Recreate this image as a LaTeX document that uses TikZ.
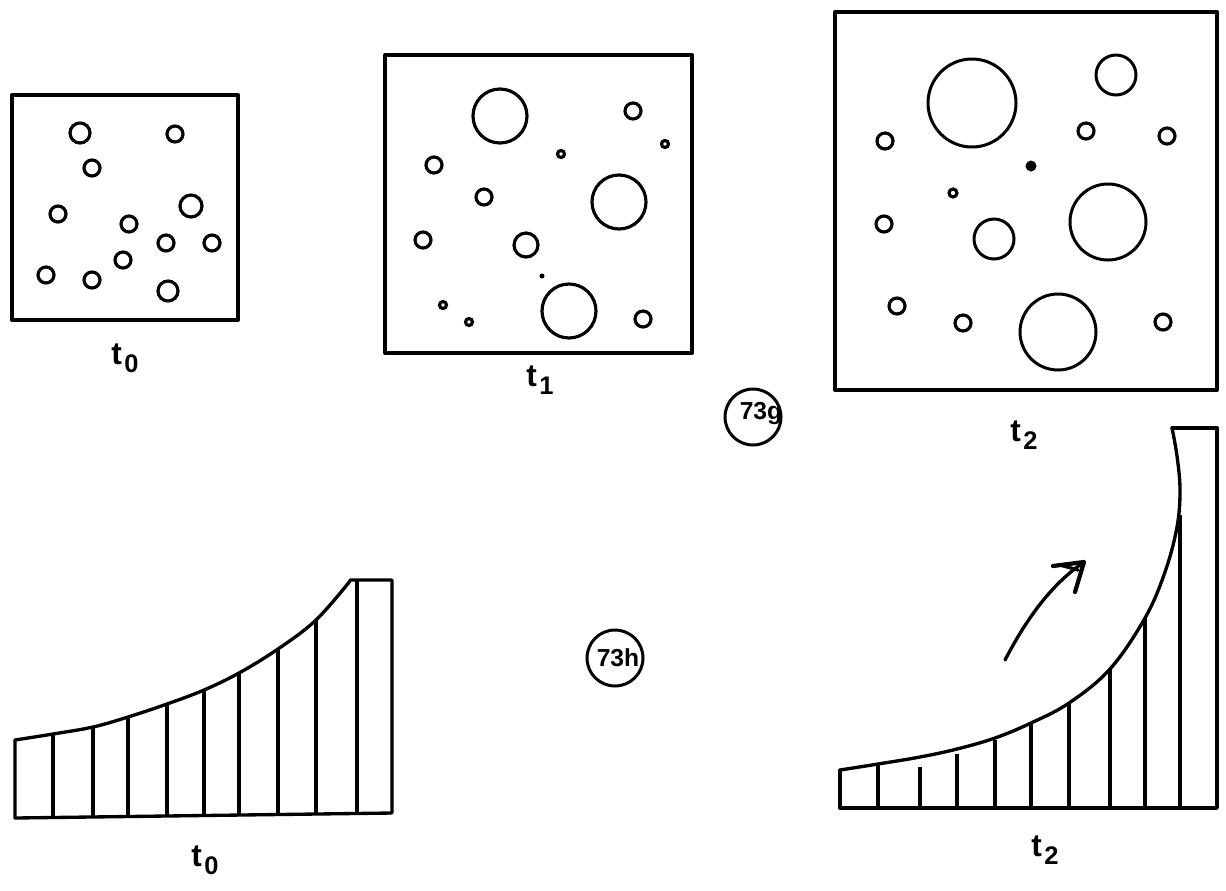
\documentclass[tikz,border=0pt]{standalone}
\usepackage{fontspec}
\setmainfont{Liberation Sans}
\usetikzlibrary{arrows.meta}
\newcommand{\tsub}[1]{t\kern0.08em\raisebox{-0.25em}{\fontsize{14.5}{15}\selectfont #1}}
\tikzset{
  frame/.style={line width=2.3pt, line join=round},
  ring/.style={line width=1.8pt},
  bigring/.style={line width=1.7pt},
  graphline/.style={line width=1.9pt, line join=round, line cap=round},
  bar/.style={line width=1.9pt},
  tlabel/.style={font=\bfseries\fontsize{18}{20}\selectfont, inner sep=0pt},
  tagring/.style={circle, draw, line width=1.7pt, minimum size=1.12cm, inner sep=0pt},
  tagtext/.style={font=\bfseries\fontsize{14}{15}\selectfont, inner sep=0pt}
}
\begin{document}
\begin{tikzpicture}[x=0.02cm,y=-0.02cm]
\useasboundingbox (0,0) rectangle (1226,890);
% ---------- t0 box ----------
\draw[frame] (12,95) rectangle (238,320);
\foreach \x/\y/\r in {80/133/10,175/134/8,92/168/8,58/214/8,191/206/11,129/224/8,166/243/8,212/243/8,123/260/8,46/275/8,92/280/8,168/291/10}
  \draw[ring] (\x,\y) circle (\r);
\node[tlabel] (lt0) at (125,358) {\tsub{0}};
% ---------- t1 box ----------
\draw[frame] (385,55) rectangle (692,353);
\foreach \x/\y/\r in {500/116/27,633/111/8,484/197/8,434/165/8,619/202/27,423/240/8,526/245/12,569/311/27,643/319/8}
  \draw[ring] (\x,\y) circle (\r);
\foreach \x/\y/\r in {665/144/3.5,561/154/3.5,443/305/3.5,469/322/3.5}
  \draw[line width=1.8pt] (\x,\y) circle (\r);
\fill (542,276) circle (2.5);
\node[tlabel] (lt1) at (540,380) {\tsub{1}};
% ---------- t2 box ----------
\draw[frame] (835,12) rectangle (1217,390);
\foreach \x/\y/\r in {972/103/44,1116/75/20,994/239/20,1108/222/38,1058/332/38}
  \draw[bigring] (\x,\y) circle (\r);
\foreach \x/\y/\r in {885/141/8,1086/131/8,1167/136/8,884/224/8,897/306/8,963/323/8,1163/322/8}
  \draw[ring] (\x,\y) circle (\r);
\draw[line width=1.8pt] (953,193) circle (4);
\fill (1031,166) circle (5.5);
\node[tlabel] (lt2) at (1024,435) {\tsub{2}};
% ---------- tags ----------
\node[tagring] (g73) at (753,417) {};
\node[tagtext] (g73t) at (761,414) {73g};
\node[tagring] (h73) at (615,658) {};
\node[tagtext] (h73t) at (618,658) {73h};
% ---------- bottom-left graph ----------
\draw[graphline] (15,740) -- (15,818) -- (392,813) -- (392,580) -- (350,580);
\draw[graphline] plot[smooth, tension=0.6] coordinates {(15,740) (53,734) (93,727) (128,717) (167,704) (204,690) (239,673) (278,649) (316,620) (350,581)};
\foreach \x/\t/\b in {53/734/818,93/727/817,128/717/817,167/704/816,204/690/816,239/673/815,278/649/815,316/620/814,357/580/814}
  \draw[bar] (\x,\t) -- (\x,\b);
\node[tlabel] (lb0) at (205,860) {\tsub{0}};
% ---------- bottom-right graph ----------
\draw[graphline] (840,770) -- (840,808) -- (1217,808) -- (1217,428) -- (1172,428);
\draw[graphline] plot[smooth, tension=0.6] coordinates {(840,770) (878,764) (920,757) (957,749) (995,738) (1031,723) (1069,703) (1110,669) (1145,618) (1165,572) (1177,527) (1180,490) (1177,456) (1172,428)};
\foreach \x/\t in {878/765,920/767,957/754,995/740,1031/724,1069/704,1110/669,1145/618,1180/515}
  \draw[bar] (\x,\t) -- (\x,808);
\node[tlabel] (lb2) at (1045,850) {\tsub{2}};
% arrow
\coordinate (as) at (1005,660);
\coordinate (ae) at (1084,562);
\draw[graphline] (as) .. controls (1030,612) and (1055,582) .. (ae);
\draw[graphline, line width=2.4pt] (1053,566) -- (ae) -- (1075,592);
\draw[graphline] (1060,565) -- (1078,570);
\end{tikzpicture}
\end{document}
